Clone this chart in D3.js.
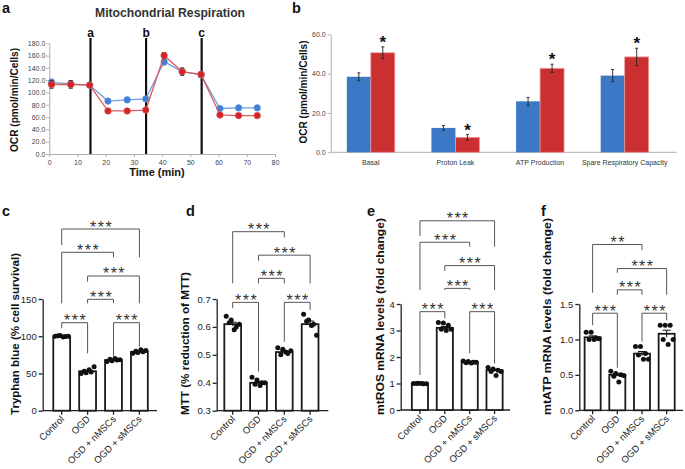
<!DOCTYPE html>
<html><head><meta charset="utf-8">
<script src="https://cdn.jsdelivr.net/npm/d3@7"></script>
<style>body{margin:0;background:#fff}svg{display:block}text{font-family:"Liberation Sans",Arial,sans-serif}</style>
</head><body><svg id="fig" width="685" height="469"></svg>
<script>
// ---------- Panel a data ----------
const timeMin = [0.8, 7.6, 14.3, 20.8, 27.6, 34.2, 40.7, 47.1, 53.8, 60.5, 67.1, 73.7];
const ocrBlue = [116.5, 114, 112, 86, 88, 89.5, 150, 134, 128.5, 74, 75, 75];
const ocrBlueErr = [5, 5, 3, 4, 4, 4, 5, 5, 4, 3, 3, 3];
const ocrRed = [113, 113, 112, 70, 70, 71.5, 160, 134, 129.5, 63.5, 62.4, 62.4];
const ocrRedErr = [6, 6, 3, 2, 2, 2, 5, 6, 4, 2, 2, 2];
const injectionTimes = [14.6, 34.3, 54.0];
const injectionLabels = ["a", "b", "c"];
const ocrTicks = [0, 20, 40, 60, 80, 100, 120, 140, 160, 180];
const timeTicks = [0, 10, 20, 30, 40, 50, 60, 70, 80];

// ---------- Panel b data ----------
const paramCats = ["Basal", "Proton Leak", "ATP Production", "Spare Respiratory Capacity"];
const paramBlue = [38.4, 12.4, 25.9, 39.0];
const paramBlueErr = [2.0, 1.2, 2.0, 3.1];
const paramRed = [50.6, 7.6, 42.7, 48.5];
const paramRedErr = [3.0, 1.4, 2.1, 4.4];
const paramSig = ["*", "*", "*", "*"];
const paramTicks = [0, 20, 40, 60];

// ---------- Panels c-f data ----------
const groups = ["Control", "OGD", "OGD + nMSCs", "OGD + sMSCs"];

const trypanMean = [100, 53, 68, 79];
const trypanSem = [0.4, 1.4, 0.7, 0.9];
const trypanPts = [[100, 101, 99.5, 100.5, 99, 100], [50, 51, 52, 53, 55, 59], [66, 67, 68, 69, 70, 68.5], [77, 78, 79, 80, 82, 81]];
const trypanTicks = [0, 50, 100, 150];
const trypanComps = [[0, 3, "***", 244, 222.5, 206], [0, 2, "***", 212.7, 144.2, 206], [1, 3, "***", 180.9, 173.2, 144.2], [1, 2, "***", 149.6, 144.2, 144.2], [0, 1, "***", 118.2, 110.6, 77.1], [2, 3, "***", 118.2, 72.5, 85.9]];

const mttMean = [0.61, 0.40, 0.51, 0.61];
const mttSem = [0.007, 0.005, 0.004, 0.011];
const mttPts = [[0.638, 0.625, 0.60, 0.615, 0.59, 0.61], [0.42, 0.41, 0.40, 0.395, 0.39, 0.40], [0.525, 0.52, 0.505, 0.50, 0.51, 0.515], [0.645, 0.625, 0.61, 0.62, 0.605, 0.57]];
const mttTicks = [0.3, 0.4, 0.5, 0.6, 0.7];
const mttComps = [[0, 2, "***", 0.941, 0.756, 0.921], [1, 3, "***", 0.857, 0.837, 0.756], [1, 2, "***", 0.774, 0.756, 0.756], [0, 1, "***", 0.688, 0.667, 0.44], [2, 3, "***", 0.688, 0.547, 0.661]];

const rosMean = [1.0, 3.1, 1.8, 1.5];
const rosSem = [0.01, 0.05, 0.02, 0.04];
const rosPts = [[1.0, 1.01, 0.99, 1.0, 1.0, 0.99], [3.3, 3.28, 3.2, 3.05, 3.0, 3.05], [1.85, 1.83, 1.8, 1.78, 1.77, 1.8], [1.6, 1.55, 1.5, 1.45, 1.3, 1.45]];
const rosTicks = [0, 1, 2, 3, 4];
const rosComps = [[0, 3, "***", 7.14, 6.57, 6.16], [0, 2, "***", 6.33, 4.53, 6.16], [1, 3, "***", 5.45, 5.25, 4.53], [1, 2, "***", 4.59, 4.53, 4.53], [0, 1, "***", 3.71, 1.32, 3.46], [2, 3, "***", 3.71, 2.14, 1.76]];

const atpMean = [1.03, 0.50, 0.80, 1.08];
const atpSem = [0.02, 0.02, 0.03, 0.05];
const atpPts = [[1.1, 1.1, 1.02, 1.0, 1.0, 1.01], [0.55, 0.52, 0.5, 0.48, 0.4, 0.49], [0.9, 0.9, 0.8, 0.78, 0.72, 0.72], [1.2, 1.2, 1.2, 1.0, 0.93, 1.0]];
const atpTicks = [0.0, 0.5, 1.0, 1.5];
const atpComps = [[0, 2, "**", 2.34, 1.66, 2.26], [1, 3, "***", 2.0, 1.94, 1.63], [1, 2, "***", 1.70, 1.63, 1.63], [0, 1, "***", 1.37, 1.20, 0.6], [2, 3, "***", 1.37, 0.97, 1.27]];

// ---------- drawing ----------
const svg = d3.select("#fig");
svg.append("rect").attr("width", 685).attr("height", 469).attr("fill", "#fff");

const BLUE = "#3b78c6", RED = "#cb3030";

function panelLabel(t, x, y) {
  svg.append("text").attr("x", x).attr("y", y).attr("font-size", 14.5).attr("font-weight", "bold").attr("fill", "#111").text(t);
}

// ===== Panel a =====
(function () {
  const x = d3.scaleLinear().domain([0, 80]).range([49.3, 275]);
  const y = d3.scaleLinear().domain([0, 180]).range([154, 43.3]);
  const g = svg.append("g");
  const ya = g.append("g").attr("transform", `translate(${x(0)},0)`)
    .call(d3.axisLeft(y).tickValues(ocrTicks).tickFormat(d3.format(".1f")).tickSize(3).tickSizeOuter(0));
  const xa = g.append("g").attr("transform", `translate(0,${y(0)})`)
    .call(d3.axisBottom(x).tickValues(timeTicks).tickSize(3).tickSizeOuter(0));
  [ya, xa].forEach(a => {
    a.selectAll("path,line").attr("stroke", "#b0b0b0");
    a.selectAll("text").attr("font-size", 7).attr("fill", "#444").style("font-family", "'Liberation Sans',Arial");
  });
  ya.selectAll("text").attr("x", -4);
  xa.selectAll("text").attr("y", 6);

  injectionTimes.forEach((t, i) => {
    g.append("line").attr("x1", x(t)).attr("x2", x(t)).attr("y1", 38).attr("y2", y(0))
      .attr("stroke", "#111").attr("stroke-width", 2.2);
    g.append("text").attr("x", x(t)).attr("y", 37).attr("text-anchor", "middle")
      .attr("font-size", 12).attr("font-weight", "bold").attr("fill", "#111").text(injectionLabels[i]);
  });

  function series(vals, errs, lineCol, ptCol) {
    const pts = timeMin.map((t, i) => [t, vals[i], errs[i]]);
    g.append("path").datum(pts).attr("fill", "none").attr("stroke", lineCol).attr("stroke-width", 1.3)
      .attr("d", d3.line().x(d => x(d[0])).y(d => y(d[1])));
    pts.forEach(d => {
      g.append("line").attr("x1", x(d[0])).attr("x2", x(d[0])).attr("y1", y(d[1] - d[2])).attr("y2", y(d[1] + d[2])).attr("stroke", "#222").attr("stroke-width", 1);
      [d[1] - d[2], d[1] + d[2]].forEach(v => g.append("line").attr("x1", x(d[0]) - 2).attr("x2", x(d[0]) + 2).attr("y1", y(v)).attr("y2", y(v)).attr("stroke", "#222").attr("stroke-width", 1));
    });
    g.selectAll(null).data(pts).enter().append("circle").attr("cx", d => x(d[0])).attr("cy", d => y(d[1])).attr("r", 3.3)
      .attr("fill", ptCol).attr("stroke", lineCol).attr("stroke-width", 0.6);
  }
  series(ocrBlue, ocrBlueErr, "#6d9ee3", "#3f7fd8");
  series(ocrRed, ocrRedErr, "#dd5a5a", "#d42525");

  g.append("text").attr("x", 170).attr("y", 17).attr("text-anchor", "middle").attr("font-size", 12.5).attr("font-weight", "bold")
    .attr("fill", "#333").attr("textLength", 150).attr("lengthAdjust", "spacingAndGlyphs").text("Mitochondrial Respiration");
  g.append("text").attr("transform", "translate(18,100) rotate(-90)").attr("text-anchor", "middle").attr("font-size", 11)
    .attr("font-weight", "bold").attr("fill", "#111").attr("textLength", 104).attr("lengthAdjust", "spacingAndGlyphs").text("OCR (pmol/min/Cells)");
  g.append("text").attr("x", 157).attr("y", 176).attr("text-anchor", "middle").attr("font-size", 11)
    .attr("font-weight", "bold").attr("fill", "#111").text("Time (min)");
  panelLabel("a", 2, 13);
})();

// ===== Panel b =====
(function () {
  const x = d3.scaleBand().domain(paramCats).range([328.5, 667]);
  const y = d3.scaleLinear().domain([0, 60]).range([152.3, 34.3]);
  const g = svg.append("g");
  const ya = g.append("g").attr("transform", `translate(330.7,0)`)
    .call(d3.axisLeft(y).tickValues(paramTicks).tickFormat(d3.format(".1f")).tickSize(3).tickSizeOuter(0));
  ya.selectAll("path,line").attr("stroke", "#b0b0b0");
  ya.selectAll("text").attr("font-size", 7).attr("fill", "#444").attr("x", -5);
  g.append("line").attr("x1", 330.7).attr("x2", 676.7).attr("y1", y(0)).attr("y2", y(0)).attr("stroke", "#b0b0b0");
  const bw = 24;
  paramCats.forEach((c, i) => {
    const cx = x(c) + x.bandwidth() / 2;
    const bars = [[cx - bw, paramBlue[i], paramBlueErr[i], BLUE, "none"], [cx, paramRed[i], paramRedErr[i], RED, "#ee9a9a"]];
    bars.forEach(b => {
      g.append("rect").attr("x", b[0]).attr("width", bw).attr("y", y(b[1])).attr("height", y(0) - y(b[1]))
        .attr("fill", b[3]).attr("stroke", b[4]).attr("stroke-width", 0.8);
      const ex = b[0] + bw / 2;
      g.append("line").attr("x1", ex).attr("x2", ex).attr("y1", y(b[1] - b[2])).attr("y2", y(b[1] + b[2])).attr("stroke", "#222").attr("stroke-width", 0.9);
      [b[1] - b[2], b[1] + b[2]].forEach(v => g.append("line").attr("x1", ex - 1.5).attr("x2", ex + 1.5).attr("y1", y(v)).attr("y2", y(v)).attr("stroke", "#222").attr("stroke-width", 0.9));
    });
    g.append("text").attr("x", cx + bw / 2).attr("y", y(paramRed[i] + paramRedErr[i]) + 1).attr("text-anchor", "middle")
      .attr("font-size", 17).attr("font-weight", "bold").attr("fill", "#111").text(paramSig[i]);
    g.append("text").attr("x", cx).attr("y", 164.5).attr("text-anchor", "middle").attr("font-size", 7).attr("fill", "#333").text(c);
  });
  g.append("text").attr("transform", "translate(307,92) rotate(-90)").attr("text-anchor", "middle").attr("font-size", 11)
    .attr("font-weight", "bold").attr("fill", "#111").attr("textLength", 103).attr("lengthAdjust", "spacingAndGlyphs").text("OCR (pmol/min/Cells)");
  panelLabel("b", 292, 13);
})();

// ===== Panels c-f =====
function dotPanel(o) {
  const g = svg.append("g");
  const x = d3.scaleBand().domain(groups).range(o.band);
  const y = d3.scaleLinear().domain(o.yDomain).range(o.yRange);
  const cx = i => x(groups[i]) + x.bandwidth() / 2;
  const bw = x.step() * 0.65;
  const y0 = y(o.yDomain[0]);

  const ya = g.append("g").attr("transform", `translate(${o.axisX},0)`)
    .call(d3.axisLeft(y).tickValues(o.ticks).tickFormat(o.fmt).tickSize(4).tickSizeOuter(0));
  ya.selectAll("path,line").attr("stroke", "#222").attr("stroke-width", 1.3);
  ya.selectAll("text").attr("font-size", 9.5).attr("fill", "#222").attr("x", -6);

  g.append("line").attr("x1", o.axisX).attr("x2", o.xEnd).attr("y1", y0).attr("y2", y0).attr("stroke", "#222").attr("stroke-width", 1.3);
  groups.forEach((gr, i) => {
    g.append("line").attr("x1", cx(i)).attr("x2", cx(i)).attr("y1", y0).attr("y2", y0 + 4).attr("stroke", "#222").attr("stroke-width", 1.3);
    g.append("text").attr("transform", `translate(${cx(i) + 3},${y0 + 9}) rotate(-45)`).attr("text-anchor", "end")
      .attr("font-size", 9.5).attr("fill", "#222").text(gr);
  });

  groups.forEach((gr, i) => {
    g.append("rect").attr("x", cx(i) - bw / 2).attr("width", bw).attr("y", y(o.means[i])).attr("height", y0 - y(o.means[i]))
      .attr("fill", "#fff").attr("stroke", "#1a1a1a").attr("stroke-width", 1.8);
  });
  groups.forEach((gr, i) => {
    const pts = o.pts[i];
    g.selectAll(null).data(pts).enter().append("circle")
      .attr("cx", (d, k) => cx(i) + ((k % 3) - 1) * 5 + (k < 3 ? -1.5 : 1.5)).attr("cy", d => y(d)).attr("r", 2.5).attr("fill", "#111");
    const top = y(o.means[i] + o.sems[i]);
    g.append("line").attr("x1", cx(i)).attr("x2", cx(i)).attr("y1", y(o.means[i] - o.sems[i])).attr("y2", top).attr("stroke", "#111").attr("stroke-width", 1);
    g.append("line").attr("x1", cx(i) - 4).attr("x2", cx(i) + 4).attr("y1", top).attr("y2", top).attr("stroke", "#111").attr("stroke-width", 1);
  });

  o.comps.forEach(c => {
    const x1 = cx(c[0]), x2 = cx(c[1]), ly = y(c[3]);
    g.append("path").attr("d", `M${x1},${y(c[4])}V${ly}H${x2}V${y(c[5])}`).attr("fill", "none").attr("stroke", "#555").attr("stroke-width", 1);
    g.append("text").attr("x", (x1 + x2) / 2 + 1).attr("y", ly + 3.5).attr("text-anchor", "middle").attr("font-size", 16)
      .attr("letter-spacing", 1.5).attr("fill", "#333").text(c[2]);
  });

  g.append("text").attr("transform", `translate(${o.titleX},415) rotate(-90)`).attr("text-anchor", "start").attr("font-size", 11)
    .attr("font-weight", "bold").attr("fill", "#111").attr("textLength", o.titleLen).attr("lengthAdjust", "spacingAndGlyphs").text(o.title);
  panelLabel(o.label, o.labelX, 216);
}

dotPanel({ axisX: 42.7, xEnd: 157, band: [48.75, 152.35], yDomain: [0, 150], yRange: [410.7, 299], ticks: trypanTicks, fmt: d3.format("d"),
  means: trypanMean, sems: trypanSem, pts: trypanPts, comps: trypanComps, title: "Tryphan blue (% cell survival)", titleX: 19, titleLen: 162, label: "c", labelX: 2 });
dotPanel({ axisX: 216.7, xEnd: 328.3, band: [219.8, 323], yDomain: [0.3, 0.7], yRange: [410.7, 299], ticks: mttTicks, fmt: d3.format(".1f"),
  means: mttMean, sems: mttSem, pts: mttPts, comps: mttComps, title: "MTT (% reduction of MTT)", titleX: 189, titleLen: 143, label: "d", labelX: 186 });
dotPanel({ axisX: 400.7, xEnd: 510, band: [407.5, 507], yDomain: [0, 4], yRange: [410, 304], ticks: rosTicks, fmt: d3.format("d"),
  means: rosMean, sems: rosSem, pts: rosPts, comps: rosComps, title: "mtROS mRNA levels (fold change)", titleX: 384, titleLen: 197, label: "e", labelX: 367 });
dotPanel({ axisX: 579.3, xEnd: 683, band: [580.3, 679], yDomain: [0, 1.5], yRange: [410.3, 304], ticks: atpTicks, fmt: d3.format(".1f"),
  means: atpMean, sems: atpSem, pts: atpPts, comps: atpComps, title: "mtATP mRNA levels (fold change)", titleX: 550.5, titleLen: 197, label: "f", labelX: 541 });
</script></body></html>
